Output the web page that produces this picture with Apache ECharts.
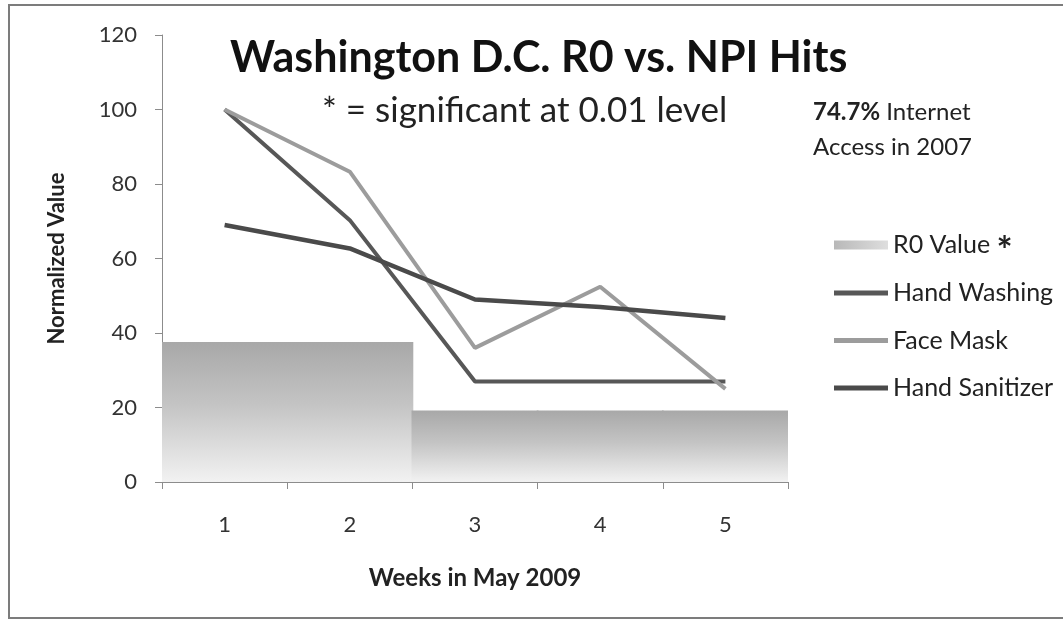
<!DOCTYPE html>
<html>
<head>
<meta charset="utf-8">
<script src="https://cdn.jsdelivr.net/npm/echarts@6/dist/echarts.min.js"></script>
<style>
  html, body { margin: 0; padding: 0; background: #fff; }
  #main { width: 1063px; height: 621px; }
</style>
</head>
<body>
<div id="main"></div>
<script>
// data
var weeks = ['1', '2', '3', '4', '5'];
var r0Value = [37.6, 37.6, 19.2, 19.2, 19.2];
var handWashing = [100, 70.3, 27, 27, 27];
var faceMask = [100, 83.3, 36, 52.4, 25];
var handSanitizer = [69, 62.7, 49, 47, 44];
var yTicks = { min: 0, max: 120, step: 20 };

var FONT = 'Lato, "Open Sans", sans-serif';

var chartDom = document.getElementById('main');
var myChart = echarts.init(chartDom);
var option;

var barFill = new echarts.graphic.LinearGradient(0, 0, 0, 1, [
    { offset: 0, color: '#a8a8a8' },
    { offset: 0.45, color: '#c4c4c4' },
    { offset: 1, color: '#f2f2f2' }
]);
var legendFill = new echarts.graphic.LinearGradient(0, 0, 1, 0, [
    { offset: 0, color: '#b8b8b8' },
    { offset: 1, color: '#dedede' }
]);

option = {
    backgroundColor: '#fff',
    animation: false,
    textStyle: { fontFamily: FONT },
    grid: { left: 162, right: 275, top: 35, bottom: 139, containLabel: false },
    graphic: [
        {
            type: 'rect', silent: true, z: -1,
            shape: { x: 9, y: 5, width: 1070, height: 613 },
            style: { fill: 'none', stroke: '#7c7c7c', lineWidth: 2 }
        },
        {
            type: 'text', left: 230, top: 37,
            style: { text: 'Washington D.C. R0 vs. NPI Hits', font: 'bold 43px ' + FONT, fill: '#111' }
        },
        {
            type: 'text', left: 322, top: 93,
            style: { text: '* = significant at 0.01 level', font: '35px ' + FONT, fill: '#222' }
        },
        {
            type: 'text', left: 813, top: 95,
            style: {
                text: '{b|74.7%} Internet\nAccess in 2007',
                font: '24px ' + FONT, fill: '#222', lineHeight: 35,
                rich: { b: { font: 'bold 24px ' + FONT, fill: '#222', lineHeight: 35 } }
            }
        }
    ],
    legend: [
        {
            left: 829, top: 214,
            itemWidth: 54, itemHeight: 9,
            icon: 'rect',
            textStyle: {
                fontSize: 25, color: '#222', fontFamily: FONT,
                rich: {
                    n: { fontSize: 25, color: '#222', fontFamily: FONT, lineHeight: 30 },
                    s: { fontSize: 38, fontWeight: 'bold', color: '#222', fontFamily: FONT, lineHeight: 30, padding: [14, 0, 0, 0] }
                }
            },
            formatter: function (name) {
                return '{n|' + name + ' }{s|*}';
            },
            data: [{ name: 'R0 Value', itemStyle: { color: legendFill } }]
        },
        {
            orient: 'vertical',
            left: 829, top: 273,
            itemWidth: 54, itemHeight: 5,
            icon: 'rect',
            itemGap: 17.5,
            textStyle: { fontSize: 25, color: '#222', fontFamily: FONT, lineHeight: 30 },
            data: ['Hand Washing', 'Face Mask', 'Hand Sanitizer']
        }
    ],
    xAxis: {
        type: 'category',
        data: weeks,
        boundaryGap: true,
        name: 'Weeks in May 2009',
        nameLocation: 'middle',
        nameGap: 84,
        nameTextStyle: { fontSize: 24, fontWeight: 'bold', color: '#222', fontFamily: FONT },
        axisLine: { lineStyle: { color: '#8c8c8c', width: 1 } },
        axisTick: { show: true, alignWithLabel: false, length: 7, lineStyle: { color: '#8c8c8c' } },
        axisLabel: { fontSize: 22, color: '#333', margin: 32 },
        splitLine: { show: false }
    },
    yAxis: {
        type: 'value',
        min: yTicks.min, max: yTicks.max, interval: yTicks.step,
        name: 'Normalized Value',
        nameLocation: 'middle',
        nameGap: 94,
        nameRotate: 90,
        nameTextStyle: { fontSize: 22, fontWeight: 'bold', color: '#222', fontFamily: FONT },
        axisLine: { show: true, lineStyle: { color: '#8c8c8c', width: 1 } },
        axisTick: { show: true, length: 7, lineStyle: { color: '#8c8c8c' } },
        axisLabel: { fontSize: 22, color: '#333', margin: 25 },
        splitLine: { show: false }
    },
    series: [
        {
            name: 'R0 Value',
            type: 'bar',
            data: r0Value,
            barWidth: 127,
            itemStyle: { color: barFill },
            z: 1
        },
        {
            name: 'Hand Washing',
            type: 'line',
            data: handWashing,
            symbol: 'none',
            lineStyle: { color: '#575757', width: 4 },
            itemStyle: { color: '#575757' },
            z: 3
        },
        {
            name: 'Face Mask',
            type: 'line',
            data: faceMask,
            symbol: 'none',
            lineStyle: { color: '#9c9c9c', width: 4 },
            itemStyle: { color: '#9c9c9c' },
            z: 3
        },
        {
            name: 'Hand Sanitizer',
            type: 'line',
            data: handSanitizer,
            symbol: 'none',
            lineStyle: { color: '#4a4a4a', width: 4.5 },
            itemStyle: { color: '#4a4a4a' },
            z: 3
        }
    ]
};

option && myChart.setOption(option);
</script>
</body>
</html>
